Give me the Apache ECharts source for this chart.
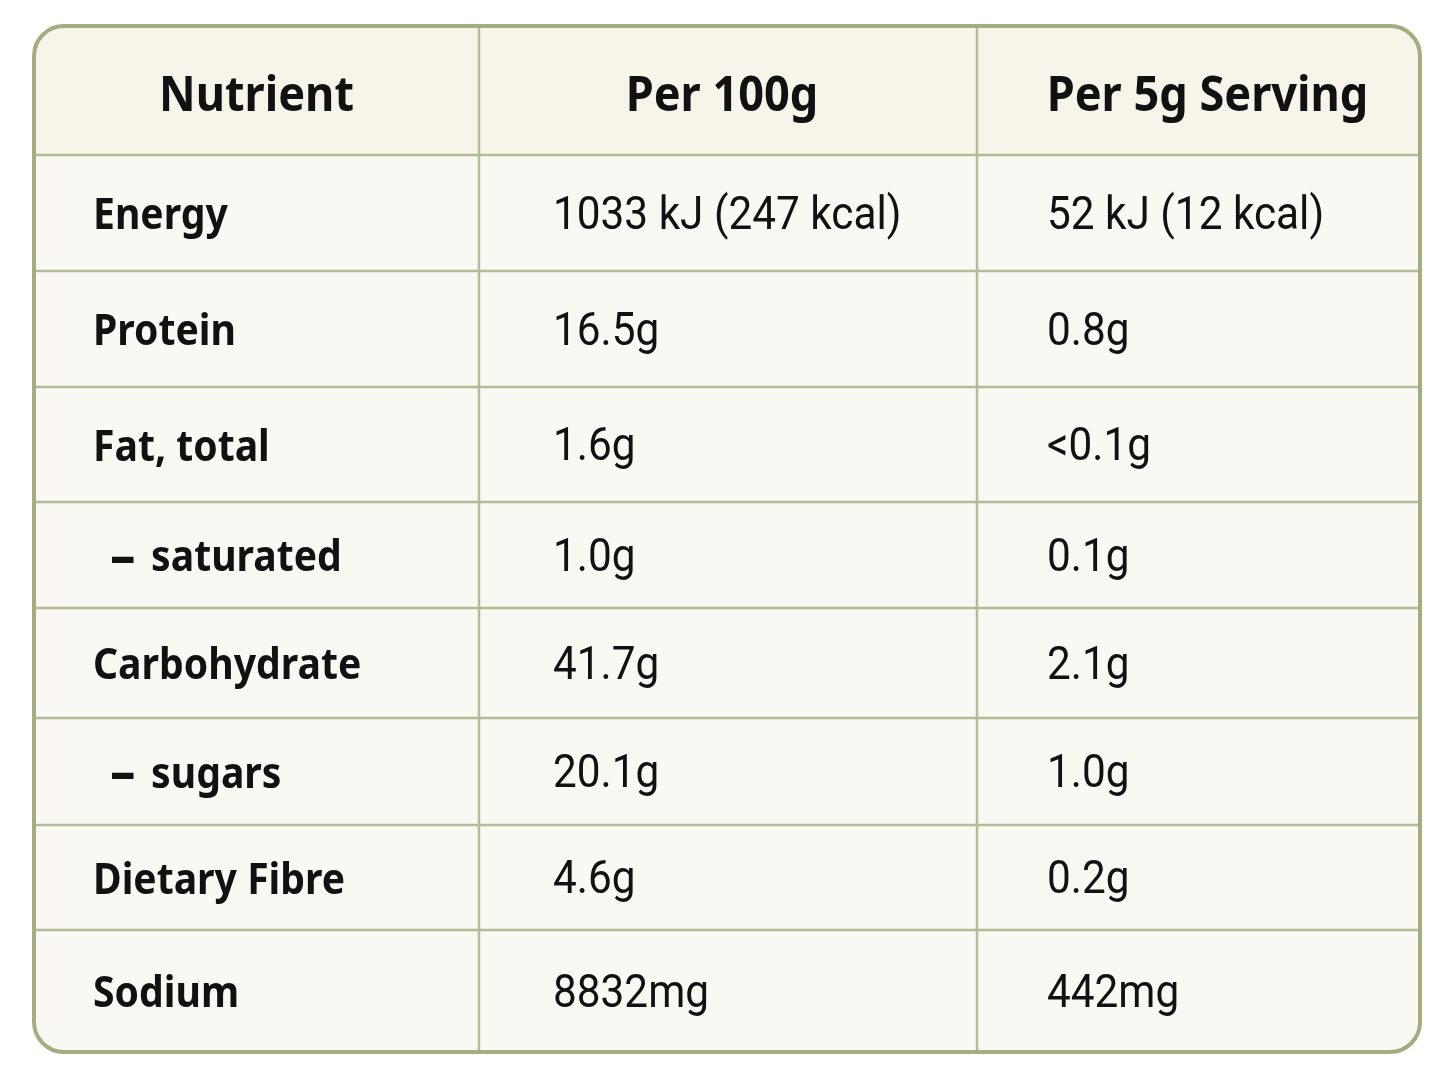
<!DOCTYPE html>
<html>
<head>
<meta charset="utf-8">
<script src="https://cdn.jsdelivr.net/npm/echarts@6/dist/echarts.min.js"></script>
<style>
  html, body { margin: 0; padding: 0; background: #ffffff; }
  #chart { width: 1448px; height: 1086px; }
</style>
</head>
<body>
<div id="chart"></div>
<script>
// table content
var headers = ['Nutrient', 'Per 100g', 'Per 5g Serving'];
var nutrients = ['Energy', 'Protein', 'Fat, total', '– saturated', 'Carbohydrate', '– sugars', 'Dietary Fibre', 'Sodium'];
var per100g = ['1033 kJ (247 kcal)', '16.5g', '1.6g', '1.0g', '41.7g', '20.1g', '4.6g', '8832mg'];
var perServing = ['52 kJ (12 kcal)', '0.8g', '<0.1g', '0.1g', '2.1g', '1.0g', '0.2g', '442mg'];

// layout (px units of the grid)
var colWidths = [445, 498, 443];
var rowHeights = [129, 116, 116, 115, 106, 110, 107, 105, 122];
var padLeft = [59, 74, 70];
var headShift = [0, -6, 9];

var colStart = [0];
colWidths.forEach(function (w, i) { colStart.push(colStart[i] + w); });
var rowStart = [0];
rowHeights.forEach(function (h, i) { rowStart.push(rowStart[i] + h); });
var totalW = colStart[colStart.length - 1];
var totalH = rowStart[rowStart.length - 1];

var cells = [];
headers.forEach(function (h, c) { cells.push([c, 0, h]); });
nutrients.forEach(function (n, r) {
    cells.push([0, r + 1, n]);
    cells.push([1, r + 1, per100g[r]]);
    cells.push([2, r + 1, perServing[r]]);
});

var lineColor = '#b3bc94';
var borderColor = '#a3ad80';

var chart = echarts.init(document.getElementById('chart'), null, {renderer: 'canvas'});

chart.setOption({
    backgroundColor: '#ffffff',
    animation: false,
    grid: {left: 34, top: 26, width: totalW, height: totalH},
    xAxis: {type: 'value', min: 0, max: totalW, show: false},
    yAxis: {type: 'value', min: 0, max: totalH, inverse: true, show: false},
    graphic: [{
        type: 'rect',
        z: 100,
        shape: {x: 34, y: 26, width: totalW, height: totalH, r: 30},
        style: {fill: 'none', stroke: borderColor, lineWidth: 4}
    }],
    series: [{
        type: 'custom',
        coordinateSystem: 'cartesian2d',
        data: cells,
        clip: false,
        renderItem: function (params, api) {
            var c = api.value(0), r = api.value(1);
            var text = cells[params.dataIndex][2];
            var p0 = api.coord([colStart[c], rowStart[r]]);
            var p1 = api.coord([colStart[c + 1], rowStart[r + 1]]);
            var w = p1[0] - p0[0], h = p1[1] - p0[1];
            var isHead = r === 0;
            var lastRow = r === rowHeights.length - 1;
            var radius = [0, 0, 0, 0];
            if (r === 0 && c === 0) radius = [30, 0, 0, 0];
            if (r === 0 && c === 2) radius = [0, 30, 0, 0];
            if (lastRow && c === 0) radius = [0, 0, 0, 30];
            if (lastRow && c === 2) radius = [0, 0, 30, 0];
            var children = [{
                type: 'rect',
                shape: {x: p0[0], y: p0[1], width: w, height: h, r: radius},
                style: {fill: isHead ? '#f7f4ea' : '#faf8f2'}
            }];
            if (c > 0) {
                children.push({
                    type: 'line',
                    shape: {x1: p0[0], y1: p0[1], x2: p0[0], y2: p1[1]},
                    style: {stroke: lineColor, lineWidth: 2.5}
                });
            }
            if (r > 0) {
                children.push({
                    type: 'line',
                    shape: {x1: p0[0], y1: p0[1], x2: p1[0], y2: p0[1]},
                    style: {stroke: lineColor, lineWidth: 2.5}
                });
            }
            var tx, ty, align, font, weight, size, sx, rich = null, shown = text;
            if (isHead) {
                tx = p0[0] + w / 2 + headShift[c]; ty = p0[1] + h / 2 + 7; align = 'center';
                font = '"Noto Sans", sans-serif'; weight = 'bold'; size = 49; sx = 0.92;
            } else if (c === 0) {
                var sub = text.charAt(0) === '–';
                tx = p0[0] + padLeft[0] + (sub ? 17 : 0);
                ty = p0[1] + h / 2 + 4; align = 'left';
                font = '"Noto Sans", sans-serif'; weight = 'bold'; size = 43; sx = 0.91;
                if (sub) {
                    // sub-rows: draw the dash a bit wider, as in the source
                    shown = '{d|–}{t|' + text.slice(1) + '}';
                    rich = {
                        d: {fontSize: 56, fontWeight: 'bold', fontFamily: 'Noto Sans', fill: '#111111'},
                        t: {fontSize: 43, fontWeight: 'bold', fontFamily: 'Noto Sans', fill: '#111111', padding: [0, 0, 0, 6]}
                    };
                }
            } else {
                tx = p0[0] + padLeft[c]; ty = p0[1] + h / 2 + 4; align = 'left';
                font = 'Roboto, sans-serif'; weight = 'normal'; size = 46; sx = 0.92;
            }
            var style = {
                x: 0, y: 0,
                text: shown,
                fill: '#111111',
                font: weight + ' ' + size + 'px ' + font,
                align: align,
                verticalAlign: 'middle'
            };
            if (rich) style.rich = rich;
            children.push({
                type: 'text',
                z2: 10,
                x: tx,
                y: ty,
                scaleX: sx,
                style: style
            });
            return {type: 'group', children: children};
        }
    }]
});
</script>
</body>
</html>
